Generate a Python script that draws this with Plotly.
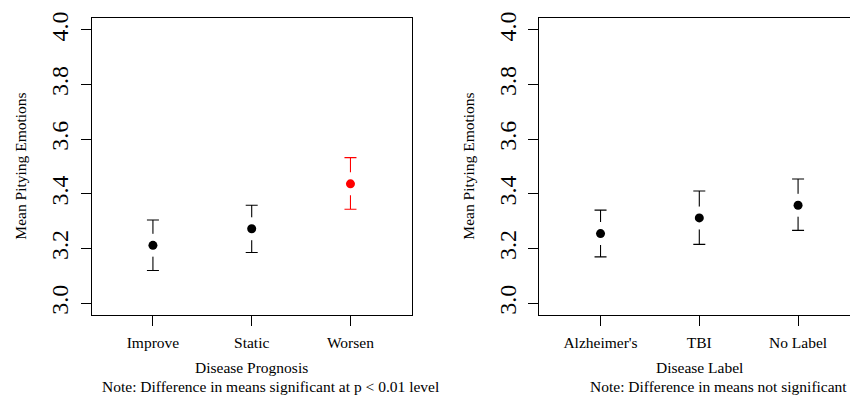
import plotly.graph_objects as go

# ---- data ----
prog_cats = ["Improve", "Static", "Worsen"]
prog_mean = [3.212, 3.273, 3.437]
prog_upper = [3.305, 3.359, 3.533]
prog_lower = [3.120, 3.186, 3.344]
prog_colors = ["#000000", "#000000", "#FF0000"]

label_cats = ["Alzheimer's", "TBI", "No Label"]
label_mean = [3.255, 3.3125, 3.359]
label_upper = [3.341, 3.411, 3.455]
label_lower = [3.170, 3.2155, 3.267]
label_colors = ["#000000", "#000000", "#000000"]

y_ticks = [3.0, 3.2, 3.4, 3.6, 3.8, 4.0]
y_title = "Mean Pitying Emotions"
x_titles = ["Disease Prognosis", "Disease Label"]
notes = ["Note: Difference in means significant at p < 0.01 level",
         "Note: Difference in means not significant"]

W, H = 850, 399
FONT = "Liberation Serif, Times New Roman, serif"

fig = go.Figure()


def add_panel(cats, mean, upper, lower, colors, xa, ya):
    xs = list(range(1, len(cats) + 1))
    for i in range(len(cats)):
        fig.add_trace(go.Scatter(
            x=[xs[i]], y=[mean[i]], mode="markers",
            marker=dict(size=1, color="rgba(0,0,0,0)"),
            error_y=dict(type="data", symmetric=False,
                         array=[upper[i] - mean[i]],
                         arrayminus=[mean[i] - lower[i]],
                         color=colors[i], thickness=1.1, width=6),
            xaxis=xa, yaxis=ya, showlegend=False, hoverinfo="skip"))
    fig.add_trace(go.Scatter(
        x=xs, y=mean, mode="markers",
        marker=dict(size=23, color="white"),
        xaxis=xa, yaxis=ya, showlegend=False, hoverinfo="skip"))
    fig.add_trace(go.Scatter(
        x=xs, y=mean, mode="markers",
        marker=dict(size=9, color=colors),
        xaxis=xa, yaxis=ya, showlegend=False))


add_panel(prog_cats, prog_mean, prog_upper, prog_lower, prog_colors, "x", "y")
add_panel(label_cats, label_mean, label_upper, label_lower, label_colors, "x2", "y2")

top_px, bot_px = 11.7, 313.3
ydom = [1 - bot_px / H, 1 - top_px / H]

xcommon = dict(showline=True, linecolor="black", linewidth=1, mirror=True,
               ticks="outside", ticklen=10, tickwidth=1, tickcolor="black",
               showgrid=False, zeroline=False,
               tickfont=dict(family=FONT, size=15.5, color="black"),
               ticklabelstandoff=4)
ycommon = dict(showline=True, linecolor="black", linewidth=1,
               ticks="outside", ticklen=10, tickwidth=1, tickcolor="black",
               showgrid=False, zeroline=False, range=[2.958, 4.042],
               tickvals=y_ticks, ticktext=[f"{v:.1f}" for v in y_ticks],
               tickangle=-90, ticklabelstandoff=3,
               tickfont=dict(family=FONT, size=24, color="black"),
               domain=ydom)

fig.update_layout(
    width=W, height=H, margin=dict(l=0, r=0, t=0, b=0),
    paper_bgcolor="white", plot_bgcolor="white",
    font=dict(family=FONT, color="black"),
    xaxis=dict(xcommon, domain=[91.7 / W, 411.7 / W], range=[0.38, 3.62],
               tickvals=[1, 2, 3], ticktext=prog_cats, anchor="y"),
    yaxis=dict(ycommon, mirror=True, anchor="x"),
    xaxis2=dict(xcommon, domain=[539.3 / W, 1.0], range=[0.38, 0.38 + 3.24 * 310.7 / 320],
                tickvals=[1, 2, 3], ticktext=label_cats, anchor="y2"),
    yaxis2=dict(ycommon, mirror=False, anchor="x2"),
)

ann_font = dict(family=FONT, size=15.5, color="black")
for cx in [21, 469]:
    fig.add_annotation(x=cx / W, y=1 - 162.5 / H, xref="paper", yref="paper",
                       text=y_title, textangle=-90, showarrow=False,
                       font=ann_font, xanchor="center", yanchor="middle")
for cx, t in zip([251.7, 699.3], x_titles):
    fig.add_annotation(x=cx / W, y=1 - 366.7 / H, xref="paper", yref="paper",
                       text=t, showarrow=False, font=ann_font,
                       xanchor="center", yanchor="middle")
for cx, t in zip([270.8, 718.0], notes):
    fig.add_annotation(x=cx / W, y=1 - 386.7 / H, xref="paper", yref="paper",
                       text=t, showarrow=False, font=ann_font,
                       xanchor="center", yanchor="middle")

fig.write_html(
    "out.html",
    config={"displayModeBar": False},
    post_script="document.body.style.margin='0';document.body.style.padding='0';"
                "document.body.style.overflow='hidden';"
                "document.documentElement.style.overflow='hidden';")
